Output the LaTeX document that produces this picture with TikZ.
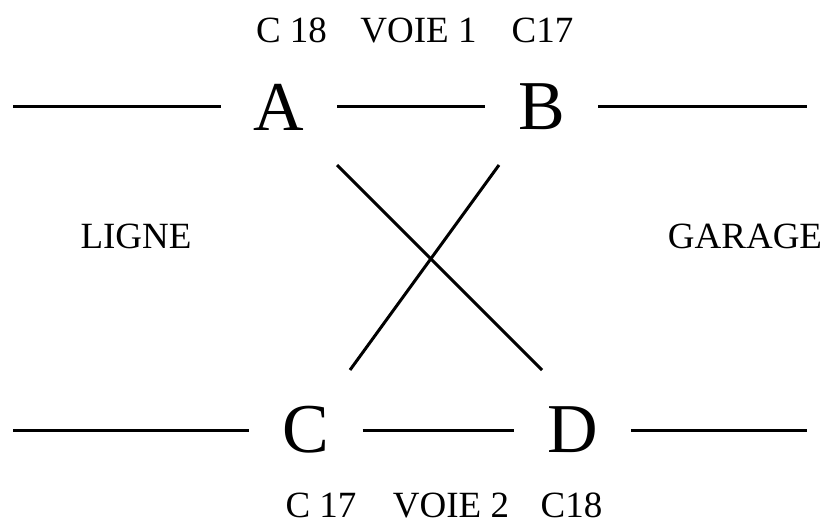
\documentclass[tikz,border=0pt]{standalone}
\usepackage{fontspec}
\setmainfont{Liberation Serif}
\tikzset{letterbox/.style={
    inner xsep=33pt,
    inner ysep=0pt,
    font=\fontsize{70}{72}\selectfont
  },
  labelbox/.style={
    anchor=base,
    inner sep=0pt,
    font=\fontsize{37}{40}\selectfont
  },
  track/.style={line width=3pt},
}
\begin{document}
\begin{tikzpicture}[x=1pt,y=-1pt]
  \useasboundingbox (0,0) rectangle (832,524);
  % points
  \node [letterbox] (A) at (279,107) {A};
  \node [letterbox] (B) at (541.5,107) {B};
  \node [letterbox] (C) at (306,430) {C};
  \node [letterbox] (D) at (572.5,430) {D};
  % labels
  \node [labelbox] (c18top) at (291.5,43) {C 18};
  \node [labelbox] (voie1) at (418.5,43) {VOIE 1};
  \node [labelbox] (c17top) at (542.5,43) {C17};
  \node [labelbox] (c17bot) at (321,517) {C 17};
  \node [labelbox] (voie2) at (451,517) {VOIE 2};
  \node [labelbox] (c18bot) at (571.5,517) {C18};
  \node [labelbox] (ligne) at (136,248) {LIGNE};
  \node [labelbox] (garage) at (745,248) {GARAGE};
  % free ends
  \coordinate (ltop) at (13,107);
  \coordinate (rtop) at (807,107);
  \coordinate (lbot) at (13,430);
  \coordinate (rbot) at (807,430);
  \coordinate (xa) at (337,165);
  \coordinate (xd) at (542,370);
  \coordinate (xb) at (499,165);
  \coordinate (xc) at (350,370);
  % tracks
  \draw[track] (ltop) -- (A);
  \draw[track] (A) -- (B);
  \draw[track] (B) -- (rtop);
  \draw[track] (lbot) -- (C);
  \draw[track] (C) -- (D);
  \draw[track] (D) -- (rbot);
  \draw[track] (xa) -- (xd);
  \draw[track] (xb) -- (xc);
\end{tikzpicture}
\end{document}
